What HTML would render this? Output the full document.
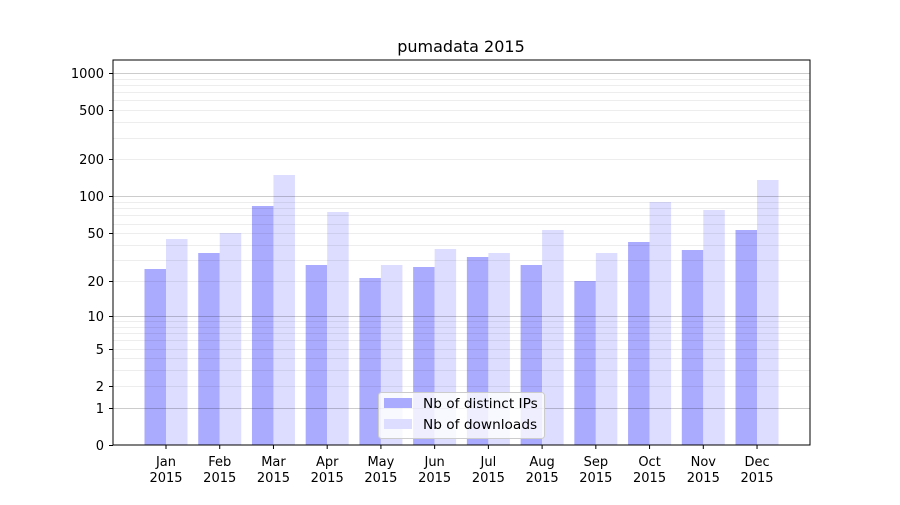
<!DOCTYPE html>
<html><head><meta charset="utf-8"><style>
html,body{margin:0;padding:0;background:#fff;}
svg text{font-family:"DejaVu Sans","Liberation Sans",sans-serif;fill:#000;}
</style></head><body>
<svg id="s" width="900" height="500" xmlns="http://www.w3.org/2000/svg">
<rect width="900" height="500" fill="#fff"/>
<g id="bars"></g>
<g id="grid"></g>
<g id="axes"></g>
<text x="461" y="52" font-size="16" text-anchor="middle">pumadata 2015</text>
<rect x="113" y="60" width="697" height="385" fill="none" stroke="#000" stroke-width="1"/>
<g>
<rect x="378.5" y="392.5" width="166" height="46" rx="3" fill="#fff" fill-opacity="0.8" stroke="#ccc"/>
<rect x="384" y="398" width="28" height="10" fill="#aaaaff"/>
<rect x="384" y="419" width="28" height="10" fill="#ddddff"/>
<text x="423" y="408" font-size="13.7">Nb of distinct IPs</text>
<text x="423" y="429" font-size="13.7">Nb of downloads</text>
</g>
</svg>
<script>
var ns="http://www.w3.org/2000/svg";
function Y(v){return 445-124*Math.log10(1+v);}
function el(p,t,a){var e=document.createElementNS(ns,t);for(var k in a)e.setAttribute(k,a[k]);document.getElementById(p).appendChild(e);return e;}
var ip=[269,253,206,265,278,267,257,265,281,242,250,230];
var dl=[239,233,175,212,265,249,253,230,253,202,210,180];
var m=["Jan","Feb","Mar","Apr","May","Jun","Jul","Aug","Sep","Oct","Nov","Dec"];
for(var i=0;i<12;i++){
 var c=166+i*53.73;
 el("bars","rect",{x:c-21.5,y:ip[i],width:21.5,height:445-ip[i],fill:"#aaaaff"});
 el("bars","rect",{x:c,y:dl[i],width:21.5,height:445-dl[i],fill:"#ddddff"});
 el("axes","line",{x1:c,x2:c,y1:445,y2:449,stroke:"#000"});
 var t=el("axes","text",{x:c,y:466,"font-size":13,"text-anchor":"middle"});t.textContent=m[i];
 var t2=el("axes","text",{x:c,y:482,"font-size":13,"text-anchor":"middle"});t2.textContent="2015";
}
[1,10,100,1000].forEach(function(v){var y=Math.round(Y(v))+0.5;el("grid","line",{x1:113,x2:810,y1:y,y2:y,stroke:"#000","stroke-opacity":0.2,"stroke-width":1});});
[1,10,100].forEach(function(d){for(var k=2;k<=9;k++){var y=Math.round(Y(k*d))+0.5;el("grid","line",{x1:113,x2:810,y1:y,y2:y,stroke:"#000","stroke-opacity":0.07,"stroke-width":1});}});
[0,1,2,5,10,20,50,100,200,500,1000].forEach(function(v){var y=Math.round(Y(v))+0.5;el("axes","line",{x1:109,x2:113,y1:y,y2:y,stroke:"#000"});var t=el("axes","text",{x:104,y:y+4.5,"font-size":13,"text-anchor":"end"});t.textContent=v;});
</script>
</body></html>
